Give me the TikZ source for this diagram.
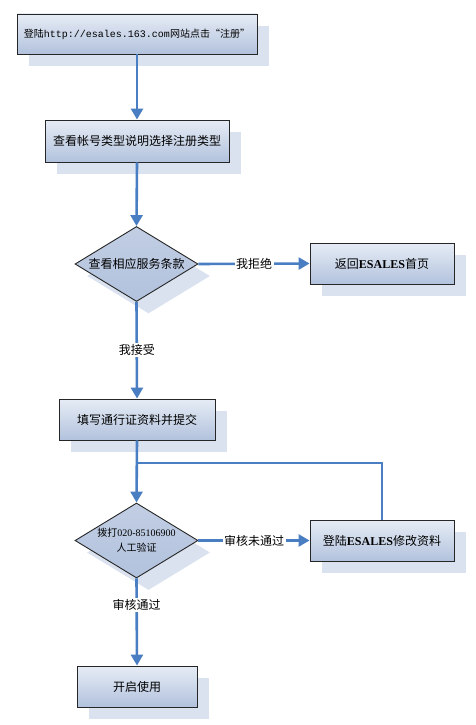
\documentclass[tikz,border=0pt]{standalone}
\usepackage{fontspec}
\setmainfont{Liberation Serif}
\setmonofont{Liberation Mono}
\newfontfamily\cjk{Noto Sans CJK SC}
\usetikzlibrary{shapes.geometric,arrows.meta,shadows}
\definecolor{boxtop}{HTML}{E6ECF5}
\definecolor{boxbot}{HTML}{B2C2DD}
\definecolor{shadowc}{HTML}{DAE2F0}
\definecolor{lineblue}{HTML}{4A7EC2}
\begin{document}
\begin{tikzpicture}[x=1pt,y=-1pt,
  shad/.style={drop shadow={shadow xshift=12pt,shadow yshift=-12pt,fill=shadowc,opacity=1}},
  box/.style={shad, draw=black!85, line width=0.9pt, top color=boxtop, bottom color=boxbot,
    minimum width=#1, minimum height=41pt, inner sep=0pt,
    font=\fontsize{12}{14}\selectfont\cjk},
  dia/.style={shad, diamond, shape aspect=1.64, draw=black!85, line width=0.9pt,
    top color=boxbot!80!white, bottom color=boxbot,
    minimum width=123pt, minimum height=75pt, inner sep=0pt, align=center,
    font=\fontsize{12}{14}\selectfont\cjk},
  conn/.style={draw=lineblue, line width=2.6pt, -{Triangle[length=11pt,width=12pt]}},
  plain/.style={draw=lineblue, line width=2.6pt},
  lab/.style={fill=white, inner sep=1.5pt, font=\fontsize{12}{14}\selectfont\cjk}]
\useasboundingbox[fill=white] (0,0) rectangle (475,725);

\node[box=240pt, minimum height=40pt] (b1) at (137,34)
  {\fontsize{10}{12}\selectfont 登陆{\ttfamily http://esales.163.com}网站点击“注册”};
\node[box=184pt, minimum height=42pt] (b2) at (137,141) {查看帐号类型说明选择注册类型};
\node[dia] (d1) at (136.5,264) {查看相应服务条款};
\node[box=144pt] (r1) at (382,263.5) {返回{\rmfamily\bfseries ESALES}首页};
\node[box=156pt] (b3) at (137,419.5) {填写通行证资料并提交};
\node[dia] (d2) at (136.5,540.5)
  {\fontsize{10}{12}\selectfont 拨打{\rmfamily 020-85106900}\\[1pt]\fontsize{10}{12}\selectfont 人工验证};
\node[box=144pt] (r2) at (382,540.5) {登陆{\rmfamily\bfseries ESALES}修改资料};
\node[box=120pt] (b5) at (137,686.5) {开启使用};

\coordinate (join) at (b3.south |- 0,463);

\draw[conn] (b1.south) -- (b2.north);
\draw[conn] (b2.south) -- (d1.north);
\draw[conn] (d1.east) -- node[lab] {我拒绝} (r1.west);
\draw[conn] (d1.south) -- node[lab] {我接受} (b3.north);
\draw[conn] (b3.south) -- (d2.north);
\draw[conn] (d2.east) -- node[lab] {审核未通过} (r2.west);
\draw[plain] (r2.north) |- (join);
\draw[conn] (d2.south) -- node[lab, pos=0.3] {审核通过} (b5.north);
\end{tikzpicture}
\end{document}
